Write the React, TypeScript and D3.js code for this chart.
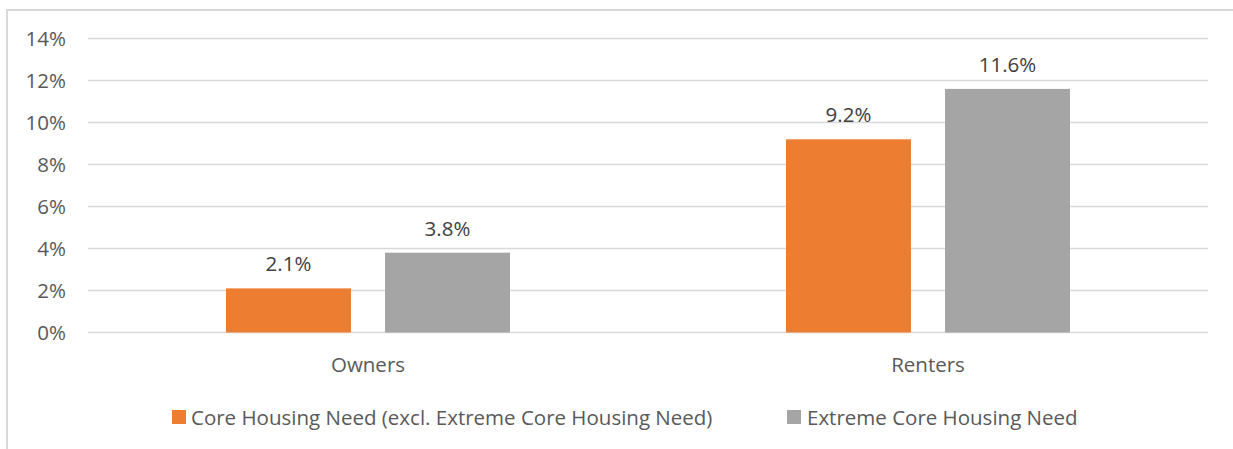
import React from "react";
import * as d3 from "d3";

const categories = ["Owners", "Renters"];
const seriesNames = [
  "Core Housing Need (excl. Extreme Core Housing Need)",
  "Extreme Core Housing Need",
];
const coreNeed = [2.1, 9.2];
const extremeNeed = [3.8, 11.6];
const yTicks = [0, 2, 4, 6, 8, 10, 12, 14];
const colors = ["#ED7D31", "#A5A5A5"];

const W = 1233;
const H = 449;
const FONT = "'Open Sans', sans-serif";
const FS = 20.5;

export default function App() {
  const plot = { left: 88, right: 1208, top: 38.5, bottom: 332.5 };
  const y = d3.scaleLinear().domain([0, 14]).range([plot.bottom, plot.top]);
  const x0 = d3.scaleBand<string>().domain(categories).range([plot.left, plot.right]);
  const x1 = d3
    .scaleBand<string>()
    .domain(seriesNames)
    .range([-142, 142])
    .paddingInner(0.214);
  const values = [coreNeed, extremeNeed];
  const legend = [
    { sx: 172, tx: 191 },
    { sx: 787, tx: 807 },
  ];

  return (
    <svg
      width={W}
      height={H}
      style={{ position: "absolute", left: 0, top: 0, fontFamily: FONT }}
    >
      <rect x={0} y={0} width={W} height={H} fill="#fff" />
      <rect x={7} y={10} width={1240} height={460} fill="#fff" stroke="#D9D9D9" strokeWidth={2} />
      {yTicks.map((t) => (
        <g key={t}>
          <line x1={plot.left} x2={plot.right} y1={y(t)} y2={y(t)} stroke="#D9D9D9" strokeWidth={1.5} />
          <text x={66} y={y(t) + 7.5} textAnchor="end" fontSize={FS} fill="#595959">
            {t}%
          </text>
        </g>
      ))}
      {categories.map((c, ci) => {
        const cx = (x0(c) as number) + x0.bandwidth() / 2;
        return (
          <g key={c}>
            {seriesNames.map((s, si) => {
              const v = values[si][ci];
              const bx = cx + (x1(s) as number);
              return (
                <g key={s}>
                  <rect x={bx} y={y(v)} width={x1.bandwidth()} height={y(0) - y(v)} fill={colors[si]} />
                  <text x={bx + x1.bandwidth() / 2} y={y(v) - 17} textAnchor="middle" fontSize={FS} fill="#404040">
                    {v.toFixed(1)}%
                  </text>
                </g>
              );
            })}
            <text x={cx} y={plot.bottom + 39.5} textAnchor="middle" fontSize={FS} fill="#595959">
              {c}
            </text>
          </g>
        );
      })}
      {seriesNames.map((s, i) => (
        <g key={s}>
          <rect x={legend[i].sx} y={410} width={14} height={14} fill={colors[i]} />
          <text x={legend[i].tx} y={425} fontSize={FS} fill="#595959">
            {s}
          </text>
        </g>
      ))}
    </svg>
  );
}
